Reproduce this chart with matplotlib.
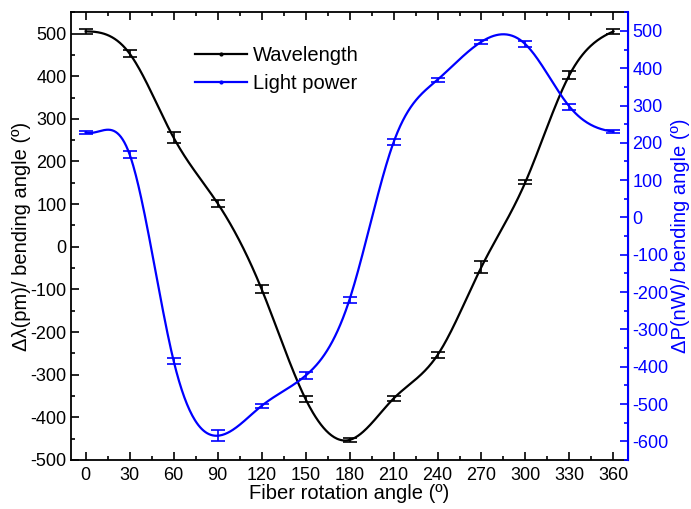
import numpy as np
import matplotlib
matplotlib.use("Agg")
import matplotlib.pyplot as plt
from matplotlib.lines import Line2D
from matplotlib.ticker import MultipleLocator

plt.rcParams['font.family'] = ['Liberation Sans', 'DejaVu Sans']
plt.rcParams['axes.unicode_minus'] = False

angle = np.arange(0, 361, 30)
wavelength = np.array([505, 453, 256, 102, -99, -357, -453, -356, -254, -47, 152, 403, 505])
wavelength_err = np.array([6, 8, 12, 8, 10, 8, 5, 6, 8, 14, 5, 10, 6])
power = np.array([228, 169, -384, -585, -505, -424, -220, 201, 369, 471, 464, 297, 230])
power_err = np.array([5, 9, 8, 15, 6, 10, 8, 8, 5, 5, 8, 8, 5])

BLUE = '#0000ff'


def clamped_spline(x, y, d0=0.0, dn=0.0, n=600):
    # cubic spline through the measured points with fixed end slopes (line drawing only)
    x = np.asarray(x, float)
    y = np.asarray(y, float)
    h = np.diff(x)
    m = len(x)
    A = np.zeros((m, m))
    b = np.zeros(m)
    A[0, 0], A[0, 1] = 2 * h[0], h[0]
    b[0] = 6 * ((y[1] - y[0]) / h[0] - d0)
    A[-1, -2], A[-1, -1] = h[-1], 2 * h[-1]
    b[-1] = 6 * (dn - (y[-1] - y[-2]) / h[-1])
    for i in range(1, m - 1):
        A[i, i - 1] = h[i - 1]
        A[i, i] = 2 * (h[i - 1] + h[i])
        A[i, i + 1] = h[i]
        b[i] = 6 * ((y[i + 1] - y[i]) / h[i] - (y[i] - y[i - 1]) / h[i - 1])
    M = np.linalg.solve(A, b)
    xs = np.linspace(x[0], x[-1], n)
    idx = np.clip(np.searchsorted(x, xs) - 1, 0, m - 2)
    x0, x1 = x[idx], x[idx + 1]
    hh = x1 - x0
    t0, t1 = x1 - xs, xs - x0
    ys = (M[idx] * t0 ** 3 + M[idx + 1] * t1 ** 3) / (6 * hh) \
        + (y[idx] / hh - M[idx] * hh / 6) * t0 \
        + (y[idx + 1] / hh - M[idx + 1] * hh / 6) * t1
    return xs, ys


fig = plt.figure(figsize=(6.91, 5.09), dpi=100)
ax = fig.add_axes([0.1027, 0.0963, 0.8063, 0.8797])
ax2 = ax.twinx()

xs, ys = clamped_spline(angle, wavelength, 0.0, 1.5)
ax.plot(xs, ys, color='black', lw=1.6)
ax.errorbar(angle, wavelength, yerr=wavelength_err, fmt='none', ecolor='black',
            elinewidth=1.2, capsize=5, capthick=1.2)

xs, ys = clamped_spline(angle, power, -1.2, -0.5)
ax2.plot(xs, ys, color=BLUE, lw=1.6)
ax2.errorbar(angle, power, yerr=power_err, fmt='none', ecolor=BLUE,
             elinewidth=1.2, capsize=5, capthick=1.2)

ax.set_xlim(-10, 370)
ax.set_ylim(-500, 550)
ax2.set_ylim(-650, 550)

ax.xaxis.set_major_locator(MultipleLocator(30))
ax.xaxis.set_minor_locator(MultipleLocator(15))
ax.yaxis.set_major_locator(MultipleLocator(100))
ax.yaxis.set_minor_locator(MultipleLocator(50))
ax2.yaxis.set_major_locator(MultipleLocator(100))
ax2.yaxis.set_minor_locator(MultipleLocator(50))

ax.tick_params(axis='x', which='both', direction='in', top=True, labelsize=13, pad=5)
ax.tick_params(axis='x', which='major', length=6, width=1.2)
ax.tick_params(axis='x', which='minor', length=3, width=1.2)
ax.tick_params(axis='y', which='both', direction='in', labelsize=13, pad=3)
ax.tick_params(axis='y', which='major', length=6, width=1.2)
ax.tick_params(axis='y', which='minor', length=3, width=1.2)
ax2.tick_params(axis='y', which='both', direction='in', colors=BLUE, labelsize=13, pad=3)
ax2.tick_params(axis='y', which='major', length=6, width=1.2)
ax2.tick_params(axis='y', which='minor', length=3, width=1.2)

for side in ['left', 'top', 'bottom']:
    ax.spines[side].set_linewidth(1.3)
ax2.spines['right'].set_color(BLUE)
ax2.spines['right'].set_linewidth(1.5)
ax2.spines['left'].set_visible(False)
ax2.spines['top'].set_visible(False)
ax2.spines['bottom'].set_visible(False)

ax.set_xlabel('Fiber rotation angle (º)', fontsize=14.5, labelpad=0)
ax.set_ylabel('Δλ(pm)/ bending angle (º)', fontsize=14.5, labelpad=0)
ax2.set_ylabel('ΔP(nW)/ bending angle (º)', fontsize=14.5, color=BLUE, labelpad=2)

handles = [
    Line2D([], [], color='black', lw=1.6, marker='.', markersize=4),
    Line2D([], [], color=BLUE, lw=1.6, marker='.', markersize=4),
]
ax.legend(handles, ['Wavelength', 'Light power'], loc='upper left',
          bbox_to_anchor=(0.19, 0.965), frameon=False, fontsize=14.5,
          handlelength=2.6, handletextpad=0.3, labelspacing=0.45, numpoints=1)

fig.savefig('out.png', dpi=100)
